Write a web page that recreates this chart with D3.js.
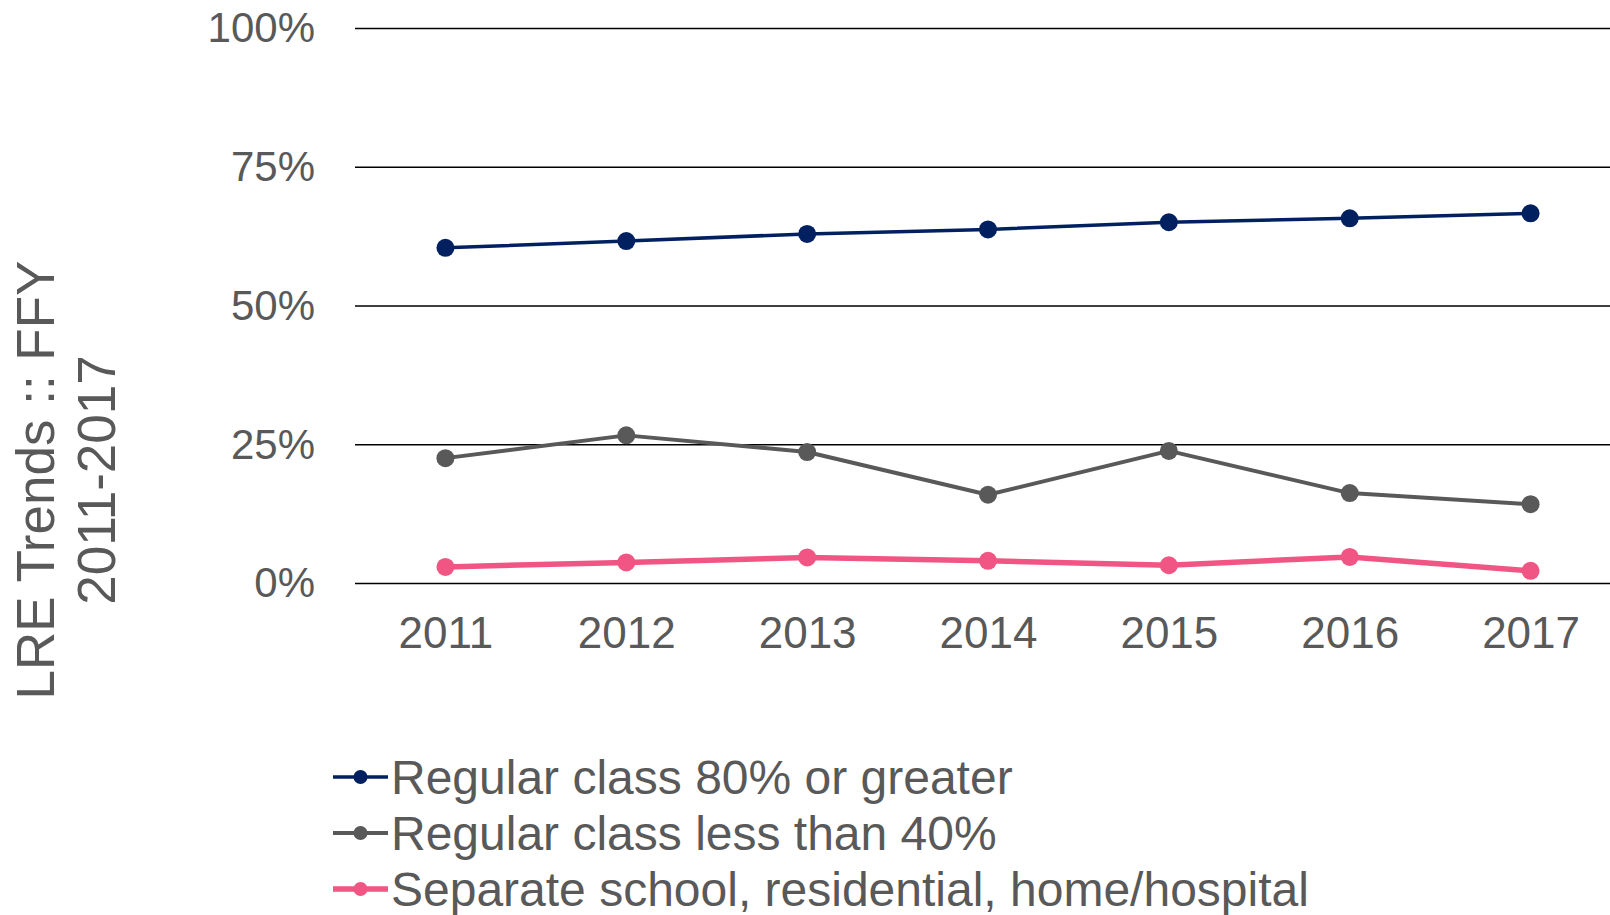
<!DOCTYPE html>
<html>
<head>
<meta charset="utf-8">
<script src="https://cdn.jsdelivr.net/npm/d3@7"></script>
<style>
  html, body { margin: 0; padding: 0; background: #fff; }
  svg { display: block; font-family: "Liberation Sans", Arial, sans-serif; }
</style>
</head>
<body>
<div id="chart"></div>
<script>
// values
const years = ["2011", "2012", "2013", "2014", "2015", "2016", "2017"];
const seriesNames = [
  "Regular class 80% or greater",
  "Regular class less than 40%",
  "Separate school, residential, home/hospital"
];
const regular80 = [0.604, 0.616, 0.629, 0.637, 0.650, 0.657, 0.666];
const regularLess40 = [0.225, 0.266, 0.236, 0.159, 0.238, 0.162, 0.142];
const separateSchool = [0.029, 0.037, 0.046, 0.040, 0.032, 0.047, 0.022];
const yTicks = [0, 0.25, 0.5, 0.75, 1];
const colors = ["#002060", "#595959", "#F05583"];
const lineWidths = [3.5, 4, 5.5];

const width = 1610;
const height = 915;
const marginTop = 28;
const marginLeft = 355;
const plotBottom = 583;

const svg = d3.select("#chart")
  .append("svg")
  .attr("width", width)
  .attr("height", height)
  .attr("viewBox", [0, 0, width, height]);

const x = d3.scalePoint(years, [marginLeft, 1621]).padding(0.5);
const y = d3.scaleLinear([0, 1], [plotBottom, marginTop]);

// gridlines + percent labels
svg.append("g")
  .attr("transform", `translate(${marginLeft},0)`)
  .call(d3.axisLeft(y).tickValues(yTicks).tickFormat(d3.format(".0%"))
    .tickSize(-(width - marginLeft)).tickPadding(40))
  .call(g => g.select(".domain").remove())
  .call(g => g.selectAll(".tick line").attr("stroke", "#000").attr("stroke-width", 1.5))
  .call(g => g.selectAll(".tick text")
    .attr("font-size", 42)
    .attr("font-family", "Liberation Sans, Arial, sans-serif")
    .attr("fill", "#595959")
    .attr("dy", "0.33em"));

// year labels
svg.append("g")
  .attr("transform", `translate(0,${plotBottom})`)
  .call(d3.axisBottom(x).tickSize(0).tickPadding(34))
  .call(g => g.select(".domain").remove())
  .call(g => g.selectAll(".tick text")
    .attr("font-size", 44)
    .attr("font-family", "Liberation Sans, Arial, sans-serif")
    .attr("fill", "#595959"));

// y axis title, two lines
const title = svg.append("text")
  .attr("transform", "translate(0,480) rotate(-90)")
  .attr("text-anchor", "middle")
  .attr("font-size", 53)
  .attr("fill", "#595959");
title.append("tspan").attr("x", 0).attr("y", 54).text("LRE Trends :: FFY");
title.append("tspan").attr("x", 0).attr("y", 115).text("2011-2017");

const allSeries = [regular80, regularLess40, separateSchool];

const line = d3.line()
  .x((d, i) => x(years[i]))
  .y(d => y(d));

allSeries.forEach((values, k) => {
  svg.append("path")
    .attr("d", line(values))
    .attr("fill", "none")
    .attr("stroke", colors[k])
    .attr("stroke-width", lineWidths[k])
    .attr("stroke-linejoin", "round");

  svg.append("g")
    .selectAll("circle")
    .data(values)
    .join("circle")
    .attr("cx", (d, i) => x(years[i]))
    .attr("cy", d => y(d))
    .attr("r", 9)
    .attr("fill", colors[k]);
});

// legend
const legend = svg.append("g").attr("transform", "translate(333,777)");
seriesNames.forEach((name, k) => {
  const row = legend.append("g").attr("transform", `translate(0,${k * 56})`);
  row.append("line")
    .attr("x1", 0).attr("x2", 55)
    .attr("stroke", colors[k])
    .attr("stroke-width", lineWidths[k]);
  row.append("circle")
    .attr("cx", 27.5).attr("r", 7)
    .attr("fill", colors[k]);
  row.append("text")
    .attr("x", 58)
    .attr("y", 17)
    .attr("font-size", 48)
    .attr("fill", "#595959")
    .text(name);
});
</script>
</body>
</html>
